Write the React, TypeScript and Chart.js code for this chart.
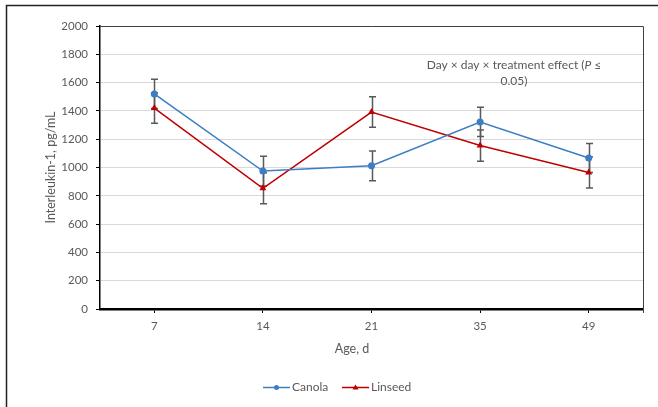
import React, { useEffect, useRef } from "react";
import { Chart, registerables } from "chart.js";

Chart.register(...registerables);

const categories = ["7", "14", "21", "35", "49"];
const canolaValues = [1520, 975, 1012, 1322, 1067];
const canolaErrors = [103, 105, 105, 103, 103];
const linseedValues = [1420, 853, 1392, 1155, 965];
const linseedErrors = [108, 110, 108, 110, 110];
const yTicks = { min: 0, max: 2000, step: 200 };
const yTitle = "Interleukin-1, pg/mL";
const xTitle = "Age, d";
const noteLine1 = ["Day × day × treatment effect (", "P", " ≤"];
const noteLine2 = "0.05)";

const FONT = "Lato";
const GRAY = "#595959";
const BLUE = "#3C7DC4";
const RED = "#C00000";

const errorSets = [canolaErrors, linseedErrors];

const customPlugin = {
  id: "custom",
  beforeDraw(chart: any) {
    const { ctx, width, height } = chart;
    ctx.save();
    ctx.fillStyle = "#fff";
    ctx.fillRect(0, 0, width, height);
    ctx.strokeStyle = "#222";
    ctx.lineWidth = 1.5;
    ctx.beginPath();
    ctx.moveTo(6.5, height);
    ctx.lineTo(6.5, 5.5);
    ctx.lineTo(width, 5.5);
    ctx.stroke();
    ctx.restore();
  },
  beforeDatasetsDraw(chart: any) {
    const { ctx } = chart;
    const yScale = chart.scales.y;
    ctx.save();
    ctx.strokeStyle = GRAY;
    ctx.lineWidth = 1.5;
    chart.data.datasets.forEach((ds: any, i: number) => {
      const meta = chart.getDatasetMeta(i);
      const errs = errorSets[i];
      meta.data.forEach((pt: any, j: number) => {
        const v = ds.data[j];
        const e = errs[j];
        const x = Math.round(pt.x) + 0.5;
        const yTop = yScale.getPixelForValue(v + e);
        const yBot = yScale.getPixelForValue(v - e);
        ctx.beginPath();
        ctx.moveTo(x, yTop);
        ctx.lineTo(x, yBot);
        ctx.moveTo(x - 3.5, yTop);
        ctx.lineTo(x + 3.5, yTop);
        ctx.moveTo(x - 3.5, yBot);
        ctx.lineTo(x + 3.5, yBot);
        ctx.stroke();
      });
    });
    ctx.restore();
  },
  afterDraw(chart: any) {
    const { ctx, chartArea } = chart;
    ctx.save();
    ctx.strokeStyle = "#404040";
    ctx.lineWidth = 1;
    ctx.beginPath();
    ctx.moveTo(chartArea.left, Math.round(chartArea.top) + 0.5);
    ctx.lineTo(Math.round(chartArea.right) + 0.5, Math.round(chartArea.top) + 0.5);
    ctx.lineTo(Math.round(chartArea.right) + 0.5, chartArea.bottom + 4);
    ctx.stroke();

    ctx.fillStyle = GRAY;
    ctx.textBaseline = "middle";
    const fNorm = `12px ${FONT}`;
    const fIt = `italic 12px ${FONT}`;
    ctx.font = fNorm;
    const w0 = ctx.measureText(noteLine1[0]).width;
    const w2 = ctx.measureText(noteLine1[2]).width;
    ctx.font = fIt;
    const w1 = ctx.measureText(noteLine1[1]).width;
    const total = w0 + w1 + w2;
    const cx = 514;
    let x = cx - total / 2;
    const y1 = 65;
    ctx.textAlign = "left";
    ctx.font = fNorm;
    ctx.fillText(noteLine1[0], x, y1);
    x += w0;
    ctx.font = fIt;
    ctx.fillText(noteLine1[1], x, y1);
    x += w1;
    ctx.font = fNorm;
    ctx.fillText(noteLine1[2], x, y1);
    ctx.textAlign = "center";
    ctx.fillText(noteLine2, cx, 81);

    ctx.font = `12.5px ${FONT}`;
    ctx.fillText(xTitle, 352, 349);

    const ly = 387.5;
    const items = [
      { x0: 263, label: chart.data.datasets[0].label, color: BLUE, shape: "circle" },
      { x0: 342, label: chart.data.datasets[1].label, color: RED, shape: "triangle" },
    ];
    items.forEach((it) => {
      ctx.strokeStyle = it.color;
      ctx.lineWidth = 1.5;
      ctx.beginPath();
      ctx.moveTo(it.x0, ly);
      ctx.lineTo(it.x0 + 27, ly);
      ctx.stroke();
      ctx.fillStyle = it.color;
      const mx = it.x0 + 13.5;
      ctx.beginPath();
      if (it.shape === "circle") {
        ctx.arc(mx, ly, 2.5, 0, Math.PI * 2);
      } else {
        ctx.moveTo(mx, ly - 3);
        ctx.lineTo(mx + 3, ly + 2);
        ctx.lineTo(mx - 3, ly + 2);
        ctx.closePath();
      }
      ctx.fill();
      ctx.fillStyle = GRAY;
      ctx.textAlign = "left";
      ctx.font = `12px ${FONT}`;
      ctx.fillText(it.label, it.x0 + 29, ly);
    });
    ctx.restore();
  },
};

export default function App() {
  const ref = useRef<HTMLCanvasElement>(null);
  useEffect(() => {
    if (!ref.current) return;
    const chart = new Chart(ref.current, {
      type: "line",
      data: {
        labels: categories,
        datasets: [
          {
            label: "Canola",
            data: canolaValues,
            borderColor: BLUE,
            backgroundColor: BLUE,
            borderWidth: 1.5,
            pointStyle: "circle",
            pointRadius: 3.5,
            pointBorderWidth: 0,
            pointBackgroundColor: BLUE,
            tension: 0,
          },
          {
            label: "Linseed",
            data: linseedValues,
            borderColor: RED,
            backgroundColor: RED,
            borderWidth: 1.5,
            pointStyle: "triangle",
            pointRadius: 4,
            pointBorderWidth: 0,
            pointBackgroundColor: RED,
            tension: 0,
          },
        ],
      },
      options: {
        animation: false,
        responsive: false,
        devicePixelRatio: 1,
        layout: { padding: { left: 39, top: 26, right: 15, bottom: 47 } },
        plugins: {
          legend: { display: false },
          tooltip: { enabled: false },
        },
        scales: {
          x: {
            type: "category",
            offset: true,
            grid: {
              drawOnChartArea: false,
              drawTicks: true,
              tickLength: 4,
              tickColor: "#000",
              offset: false,
            },
            border: { color: "#000", width: 2.5 },
            ticks: {
              color: GRAY,
              font: { family: FONT, size: 11.5 },
              padding: 6,
              maxRotation: 0,
            },
            afterFit: (s: any) => {
              s.height = 51;
            },
          },
          y: {
            min: yTicks.min,
            max: yTicks.max,
            ticks: {
              stepSize: yTicks.step,
              color: GRAY,
              font: { family: FONT, size: 11.5 },
              padding: 8,
              callback: (v: any) => String(v),
            },
            grid: {
              color: "#d9d9d9",
              lineWidth: 1,
              tickLength: 4,
              tickColor: "#000",
            },
            border: { color: "#000", width: 1.5 },
            title: {
              display: true,
              text: yTitle,
              color: GRAY,
              font: { family: FONT, size: 12.5 },
              padding: { top: 4, bottom: 4 },
            },
            afterFit: (s: any) => {
              s.width = 61;
            },
          },
        },
      },
      plugins: [customPlugin],
    });
    return () => chart.destroy();
  }, []);
  return (
    <div style={{ position: "fixed", left: 0, top: 0, width: 658, height: 407 }}>
      <canvas ref={ref} width={658} height={407} style={{ width: 658, height: 407, display: "block" }} />
    </div>
  );
}
